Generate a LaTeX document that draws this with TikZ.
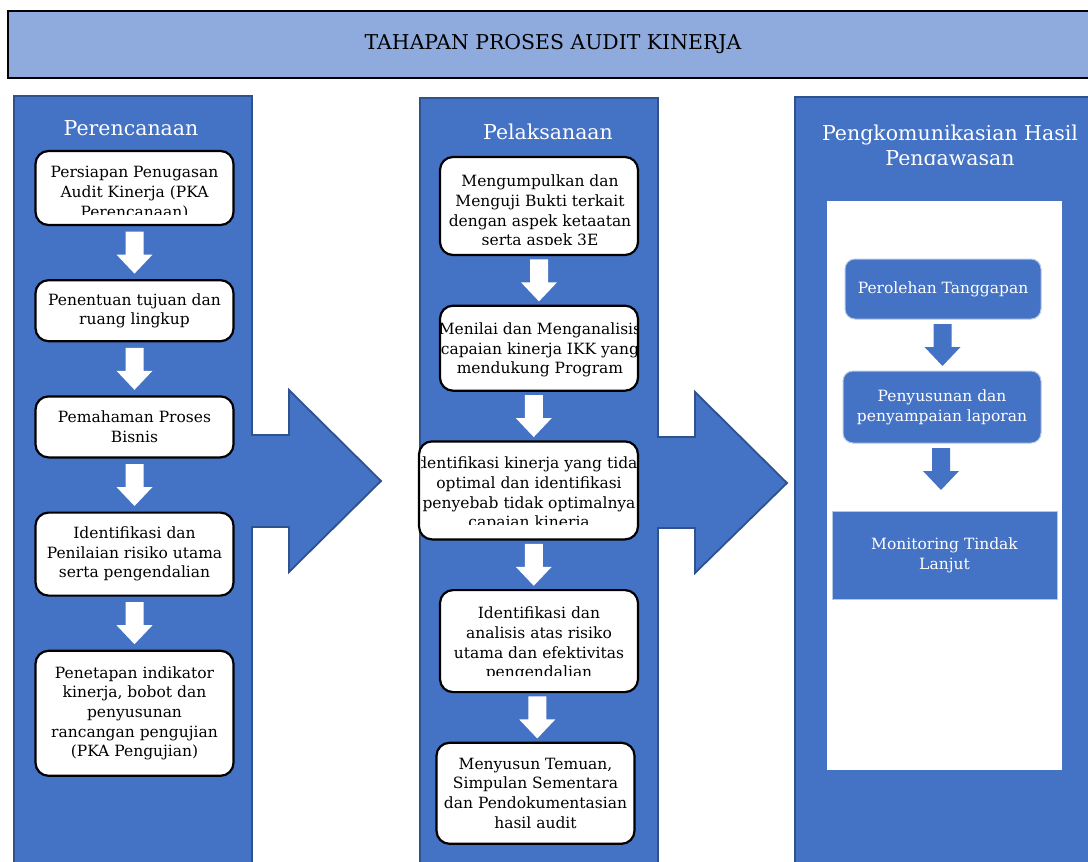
\documentclass[tikz,border=0pt]{standalone}
\usepackage{fontspec}
\setmainfont{DejaVu Serif}
\usetikzlibrary{positioning,calc}
\definecolor{colblue}{HTML}{4472C4}
\definecolor{coledge}{HTML}{2F528F}
\definecolor{titleblue}{HTML}{8FAADC}
\definecolor{lightedge}{HTML}{B4C7E7}
\tikzset{node distance=53pt}

\begin{document}
\begin{tikzpicture}[x=1pt, y=-1pt,
  stage/.style={draw=coledge, fill=colblue, line width=1.5pt,
    minimum width=238pt, minimum height=780pt, inner sep=0pt},
  stagetitle/.style={text=white, align=center, inner sep=0pt,
    font=\fontsize{20.5}{25}\selectfont},
  stepbox/.style={draw=black, fill=white, line width=2.2pt,
    rounded corners=13pt, minimum width=198pt, inner sep=1pt,
    align=center, font=\fontsize{15.5}{19.7}\selectfont},
  steptext/.style={align=center, inner sep=0pt,
    font=\fontsize{15.5}{19.7}\selectfont},
  reportbox/.style={draw=lightedge, fill=colblue, line width=1pt,
    text=white, align=center, inner sep=2pt,
    font=\fontsize{15.5}{19.7}\selectfont},
  bigarrow/.style={fill=colblue, draw=coledge, line width=1.8pt},
  blockdown/.pic={\path[pic actions] (-9,-21) -- (9,-21) -- (9,2)
    -- (18,2) -- (0,21) -- (-18,2) -- (-9,2) -- cycle;}
]
\clip (0,0) rectangle (1088,862);
\fill[white] (0,0) rectangle (1088,862);

% title bar
\node[draw=black, fill=titleblue, line width=2.5pt, minimum width=1090pt,
  minimum height=67pt, font=\fontsize{20.4}{24}\selectfont] (head)
  at (553,44.5) {TAHAPAN PROSES AUDIT KINERJA};

% the three stages
\node[stage] (plan) at (133,486) {};
\node[stage] (exec) at (539,488) {};
\node[stage, minimum width=300pt] (report) at (945,487) {};

\node[stagetitle] (plantitle) at (131,128) {Perencanaan};
\node[stagetitle] (exectitle) at (548,132) {Pelaksanaan};
\begin{scope}
  \clip (796,100) rectangle (1088,164);
  \node[stagetitle] (reporttitle) at (950,147)
    {Pengkomunikasian Hasil\\Pengawasan};
\end{scope}

% arrows between stages
\path[bigarrow] (251,435) -- (289,435) -- (289,390) -- (381,481)
  -- (289,572) -- (289,527) -- (251,527);
\path[bigarrow] (657,437) -- (695,437) -- (695,392) -- (787,483)
  -- (695,573) -- (695,528) -- (657,528);

% Perencanaan
\node[stepbox, minimum height=74pt] (p1) at (134.5,188) {};
\node[stepbox, minimum height=61pt, below=of p1] (p2)
  {Penentuan tujuan dan\\ruang lingkup};
\node[stepbox, minimum height=61pt, below=of p2] (p3)
  {Pemahaman Proses\\Bisnis};
\node[stepbox, minimum height=83pt, below=of p3] (p4)
  {Identifikasi dan\\Penilaian risiko utama\\serta pengendalian};
\node[stepbox, minimum height=125pt, below=of p4] (p5)
  {Penetapan indikator\\kinerja, bobot dan\\penyusunan\\rancangan pengujian\\(PKA Pengujian)};
\begin{scope}
  \clip (38,154) rectangle (231,214);
  \node[steptext] (p1text) at (134.5,193)
    {Persiapan Penugasan\\Audit Kinerja (PKA\\Perencanaan)};
\end{scope}
\foreach \a/\b in {p1/p2, p2/p3, p3/p4, p4/p5}
  \pic[fill=white] at ($(\a.south)!.5!(\b.north)$) {blockdown};

% Pelaksanaan
\begin{scope}[node distance=48.5pt]
\node[stepbox, minimum height=98pt] (c1) at (539,206) {};
\node[stepbox, minimum height=85pt, below=of c1] (c2) {};
\node[stepbox, minimum height=98pt, minimum width=219pt,
  below=of c2, xshift=-10.5pt] (c3) {};
\node[stepbox, minimum height=102pt, below=of c3, xshift=10.5pt] (c4) {};
\node[stepbox, minimum height=101pt, below=of c4, xshift=-3.5pt] (c5)
  {Menyusun Temuan,\\Simpulan Sementara\\dan Pendokumentasian\\hasil audit};
\end{scope}
\begin{scope}
  \clip (443,160) rectangle (636,244);
  \node[steptext] (c1text) at (540,212)
    {Mengumpulkan dan\\Menguji Bukti terkait\\dengan aspek ketaatan\\serta aspek 3E};
\end{scope}
\begin{scope}
  \clip (441,308) rectangle (636,388);
  \node[steptext] (c2text) at (540,350)
    {Menilai dan Menganalisis\\capaian kinerja IKK yang\\mendukung Program};
\end{scope}
\begin{scope}
  \clip (421,441) rectangle (636,524);
  \node[steptext] (c3text) at (529,494)
    {Identifikasi kinerja yang tidak\\optimal dan identifikasi\\penyebab tidak optimalnya\\capaian kinerja};
\end{scope}
\begin{scope}
  \clip (441,591) rectangle (636,675);
  \node[steptext] (c4text) at (539,644)
    {Identifikasi dan\\analisis atas risiko\\utama dan efektivitas\\pengendalian};
\end{scope}
\foreach \a/\b in {c1/c2, c2/c3, c3/c4, c4/c5}
  \pic[fill=white] at ($(\a.south)!.5!(\b.north)$) {blockdown};

% Pengkomunikasian
\node[fill=white, minimum width=235pt, minimum height=569pt] (panel)
  at (944.5,485.5) {};
\node[reportbox, rounded corners=10pt, minimum width=196pt,
  minimum height=60pt] (d1) at (943,289) {Perolehan Tanggapan};
\node[reportbox, rounded corners=10pt, minimum width=198pt,
  minimum height=72pt] (d2) at (942,407) {Penyusunan dan\\penyampaian laporan};
\node[reportbox, minimum width=225pt, minimum height=88pt] (d3)
  at (944.5,555) {Monitoring Tindak\\Lanjut};
\pic[fill=colblue] at ($(d1.south)!.5!(d2.north)$) {blockdown};
\pic[fill=colblue] at (941,469) {blockdown};
\end{tikzpicture}
\end{document}
